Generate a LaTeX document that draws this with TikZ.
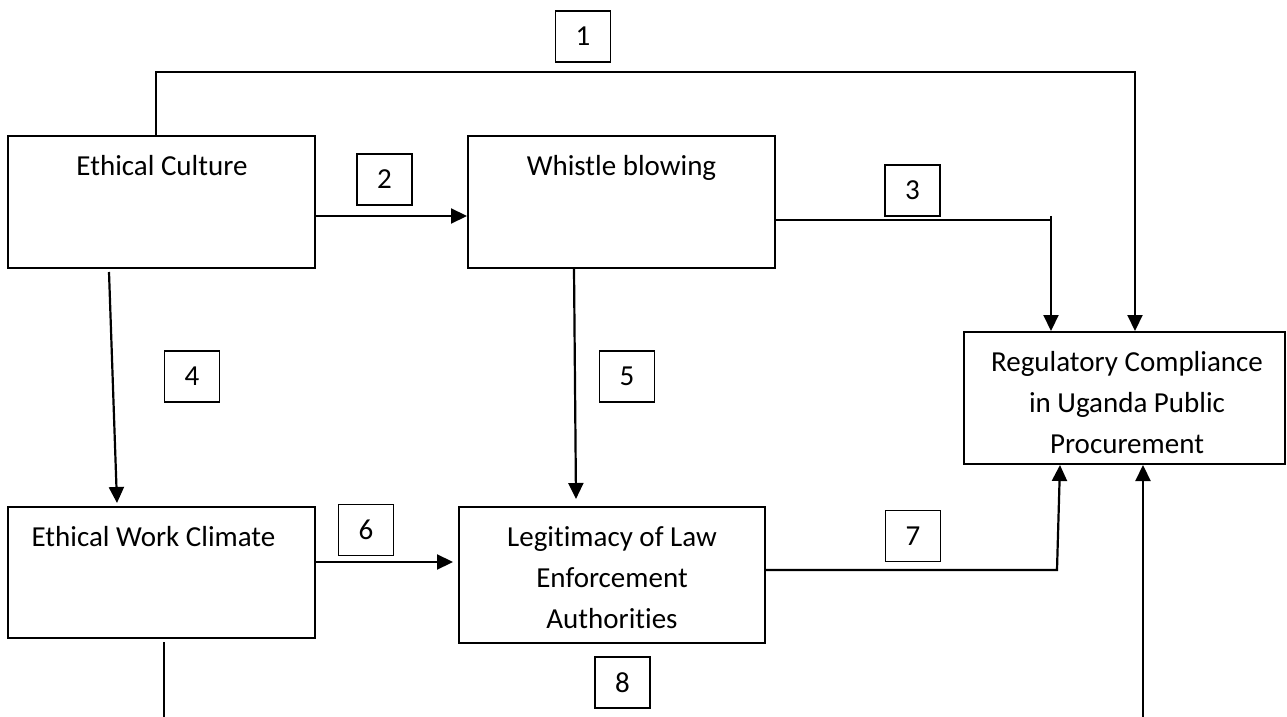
\documentclass[tikz,border=0pt]{standalone}
\usepackage{fontspec}
\setmainfont[Ligatures=NoCommon]{Carlito}
\usetikzlibrary{arrows.meta}
\begin{document}
\begin{tikzpicture}[x=0.5pt,y=-0.5pt,
  box/.style={draw, line width=1pt, inner sep=0pt},
  numbox/.style={draw, line width=0.9pt, inner sep=0pt, minimum width=27.5pt, minimum height=25.5pt, font=\fontsize{14.5pt}{17pt}\selectfont},
  txt/.style={inner sep=0pt, align=center, font=\fontsize{14.5pt}{20.5pt}\selectfont},
  ln/.style={line width=1pt},
  arr/.style={line width=1.1pt, -{Triangle[length=8pt,width=7.5pt]}}]
\useasboundingbox (0,0) rectangle (1287,717);
% main boxes
\node[box, minimum width=153.5pt, minimum height=66pt] (ec) at (161.5,202) {};
\node[box, minimum width=153.5pt, minimum height=66pt] (wb) at (621.5,202) {};
\node[box, minimum width=160.5pt, minimum height=66pt] (rc) at (1124.5,398) {};
\node[box, minimum width=153.5pt, minimum height=65.5pt] (ew) at (161.5,572.5) {};
\node[box, minimum width=153pt, minimum height=68pt] (lg) at (612,575) {};
% texts (base anchor = baseline of the last line)
\node[txt, anchor=base] (ect) at (162,176) {Ethical Culture};
\node[txt, anchor=base] (wbt) at (621.5,176) {Whistle blowing};
\node[txt, anchor=base] (ewt) at (153.5,546) {Ethical Work Climate};
\node[txt, anchor=base] (lgt) at (612,628) {Legitimacy of Law\\Enforcement\\Authorities};
\node[txt, anchor=base] (rct) at (1127,453) {Regulatory Compliance\\in Uganda Public\\Procurement};
% number boxes
\node[numbox] (n1) at (583,36.5) {1};
\node[numbox] (n2) at (384.5,179.5) {2};
\node[numbox] (n3) at (912.5,190.5) {3};
\node[numbox] (n4) at (192,376.5) {4};
\node[numbox] (n5) at (627,376.5) {5};
\node[numbox] (n6) at (366,530) {6};
\node[numbox] (n7) at (913,536) {7};
\node[numbox] (n8) at (622.5,682.5) {8};
% connectors
\coordinate (c1a) at (156,72);
\coordinate (c1b) at (1135,72);
\draw[arr] (ec.north -| c1a) -- (c1a) -- (c1b) -- (rc.north -| c1b);
\coordinate (c2) at (0,216);
\draw[arr] (ec.east |- c2) -- (wb.west |- c2);
\coordinate (c3) at (1051,220);
\coordinate (c3t) at (1051,216);
\draw[ln] (wb.east |- c3) -- (c3);
\draw[arr] (c3t) -- (rc.north -| c3);
\coordinate (c4a) at (109,272);
\coordinate (c4b) at (117,503);
\draw[arr] (c4a) -- (c4b);
\coordinate (c5a) at (574,268);
\coordinate (c5b) at (576,499);
\draw[arr] (c5a) -- (c5b);
\coordinate (c6) at (0,562);
\coordinate (c6e) at (453,562);
\draw[arr] (ew.east |- c6) -- (c6e);
\coordinate (c7) at (1057,570);
\coordinate (c7e) at (1060,464);
\draw[arr] (lg.east |- c7) -- (c7) -- (rc.south -| c7e);
\coordinate (c8) at (1143,717);
\draw[arr] (c8) -- (rc.south -| c8);
\coordinate (c9a) at (164,642);
\coordinate (c9b) at (164,717);
\draw[ln] (c9a) -- (c9b);
\end{tikzpicture}
\end{document}
